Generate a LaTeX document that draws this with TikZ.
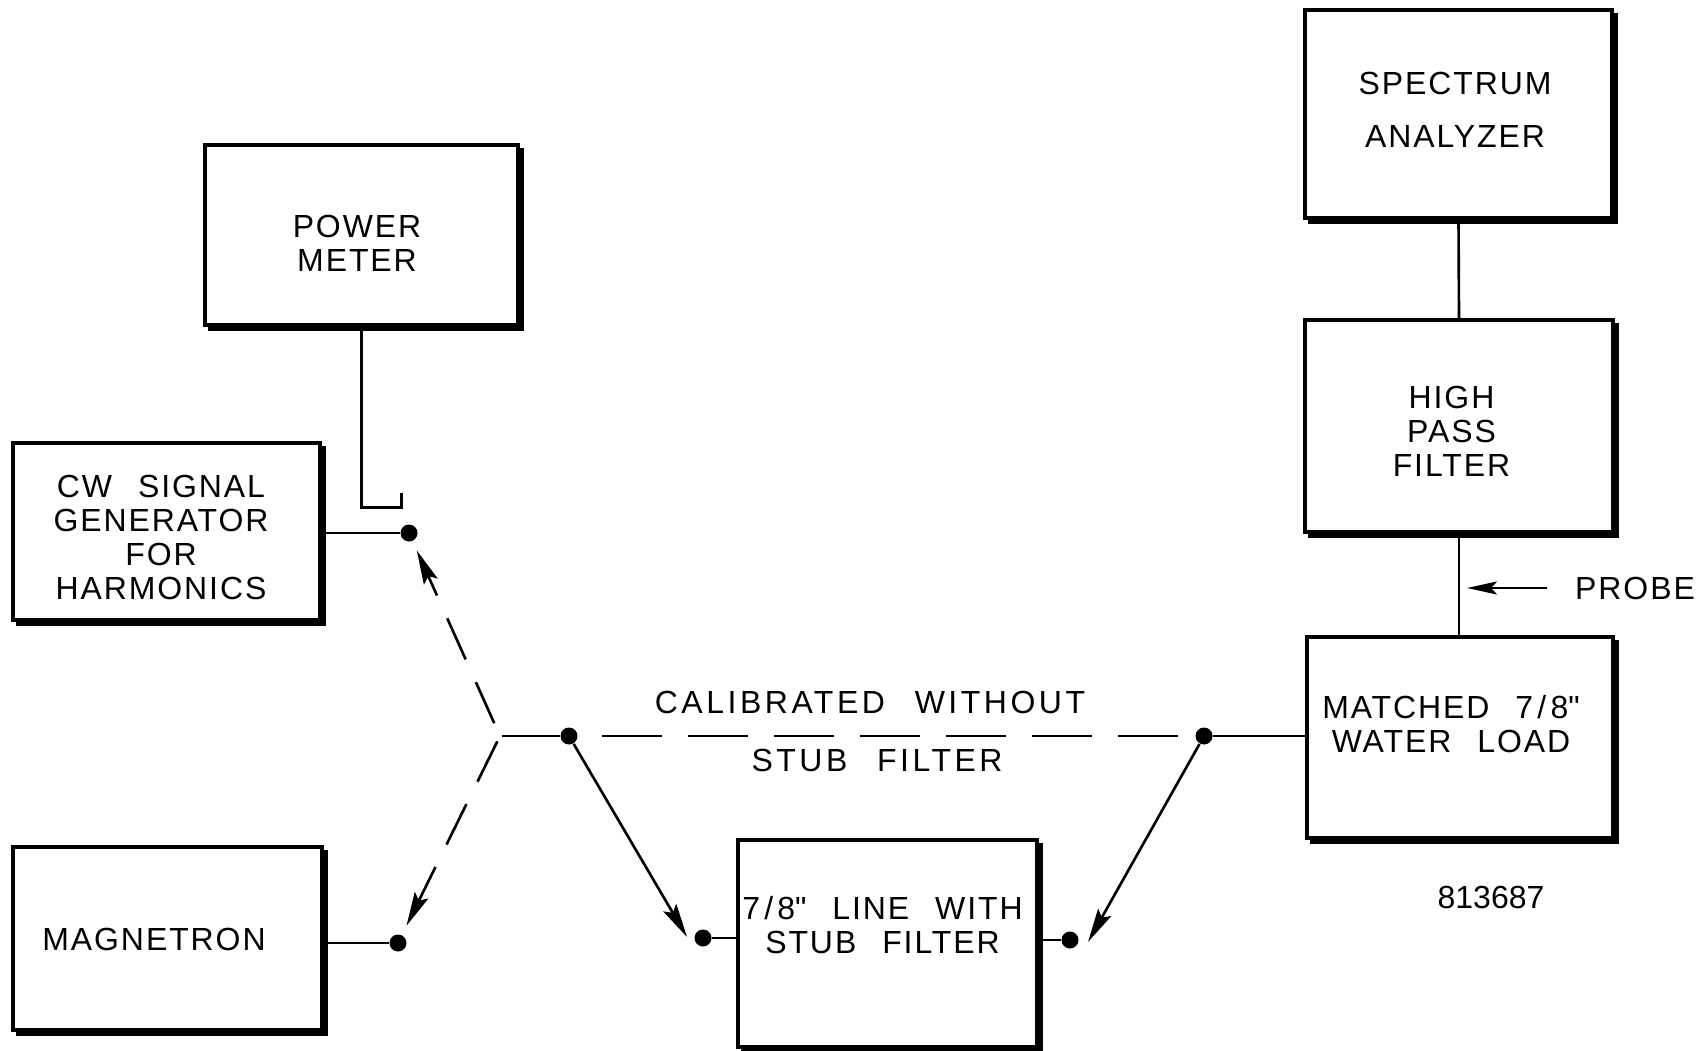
\documentclass[tikz,border=0pt]{standalone}
\usepackage{fontspec}
\setmainfont[LetterSpace=6,WordSpace=2.4]{Liberation Sans}
\newfontfamily\numfont{Liberation Sans}
\newfontfamily\widefont[LetterSpace=11,WordSpace=2.4]{Liberation Sans}
\usetikzlibrary{arrows.meta}

\tikzset{
  unit/.style={draw, line width=0.9pt, inner sep=0pt},
  heavyedge/.style={line width=1.6pt},
  caps/.style={align=center, inner sep=0pt, font=\fontsize{9.1}{9.7}\selectfont},
  dot/.style={circle, fill, inner sep=0pt, minimum size=1.7mm},
  wire/.style={line width=0.75pt},
  tip/.style={wire, -{Stealth[length=3.4mm,width=1.5mm,inset=0.6mm]}},
  longdash/.style={wire, dash pattern=on 4.5mm off 2.5mm},
  dashtip/.style={longdash, -{Stealth[length=3.4mm,width=1.5mm,inset=0.6mm]}}
}
\newcommand{\inch}{\textquotedbl}
\newcommand{\sevenei}{7\kern1.2pt/\kern1.2pt8}

\begin{document}
\begin{tikzpicture}
  \useasboundingbox (0,0) rectangle (17.06,10.5);
  % units on the left
  \node[unit, minimum width=3.13cm, minimum height=1.80cm] (pm) at (3.615,8.15) {};
  \node[caps] (pmt) at (3.57,8.07) {POWER\\METER};
  \node[unit, minimum width=3.07cm, minimum height=1.77cm] (cw) at (1.665,5.185) {};
  \node[caps] (cwt) at (1.61,5.125) {CW SIGNAL\\GENERATOR\\FOR\\HARMONICS};
  \node[unit, minimum width=3.09cm, minimum height=1.83cm] (mag) at (1.675,1.115) {};
  \node[caps] (magt) at (1.54,1.11) {MAGNETRON};
  % line with stub filter
  \node[unit, minimum width=2.99cm, minimum height=2.07cm] (lb) at (8.875,1.065) {};
  \node[caps] (lbt) at (8.825,1.25) {\sevenei\inch{} LINE WITH\\STUB FILTER};
  % units on the right
  \node[unit, minimum width=3.07cm, minimum height=2.08cm] (sa) at (14.585,9.36) {};
  \node[caps] (sat) at (14.55,9.405) {SPECTRUM\\[5.3pt]ANALYZER};
  \node[unit, minimum width=3.08cm, minimum height=2.12cm] (hpf) at (14.59,6.24) {};
  \node[caps] (hpft) at (14.515,6.185) {HIGH\\PASS\\FILTER};
  \node[unit, minimum width=3.06cm, minimum height=2.01cm] (wl) at (14.60,3.125) {};
  \node[caps] (wlt) at (14.51,3.26) {MATCHED \sevenei\inch\\WATER LOAD};
  % heavy lower and right edges
  \foreach \b in {pm,cw,mag,lb,sa,hpf,wl}
    \draw[heavyedge] ([shift={(0.02,-0.05)}]\b.north east) -- ([shift={(0.02,-0.02)}]\b.south east)
      -- ([shift={(0.05,-0.02)}]\b.south west);

  % switch points
  \node[dot] (cwd) at (4.09,5.17) {};
  \node[dot] (magd) at (3.98,1.07) {};
  \coordinate (j) at (5.00,3.14);
  \node[dot] (ld) at (5.69,3.14) {};
  \node[dot] (rd) at (12.04,3.14) {};
  \node[dot] (lbl) at (7.03,1.12) {};
  \node[dot] (lbr) at (10.70,1.10) {};
  \coordinate (lt) at (6.87,1.13);
  \coordinate (rt) at (10.88,1.08);

  % power meter coupler
  \draw[wire] (pm.south) -- ++(0,-1.81) -- ++(0.40,0) -- ++(0,0.15);
  % sources
  \draw[wire] (cwd -| cw.east) -- (cwd);
  \draw[wire] (magd -| mag.east) -- (magd);
  \draw[dashtip, shorten <=1.4mm, shorten >=1mm] (j) -- (cwd);
  \draw[dashtip, shorten <=0.6mm, shorten >=1mm] (j) -- (magd);
  \draw[wire, shorten <=0.2mm] (j) -- (ld);
  % calibration path and stub filter path
  \draw[wire, dash pattern=on 6mm off 2.6mm, shorten <=2.4mm, shorten >=1mm] (ld) -- (rd);
  \node[caps, font=\widefont\fontsize{9.1}{9.7}\selectfont] (calt) at (8.70,3.48) {CALIBRATED WITHOUT};
  \node[caps, font=\widefont\fontsize{9.1}{9.7}\selectfont] (stubt) at (8.77,2.90) {STUB FILTER};
  \draw[tip] (ld) -- (lt);
  \draw[tip] (rd) -- (rt);
  \draw[wire] (lbl) -- (lbl -| lb.west);
  \draw[wire] (lb.east |- lbr) -- (lbr);
  \draw[wire] (rd) -- (rd -| wl.west);
  % detection chain
  \draw[wire] (sa.south) -- (hpf.north);
  \draw[wire] (hpf.south) -- (hpf.south |- wl.north);
  \coordinate (pt) at (14.67,4.62);
  \node[caps] (probe) at (16.35,4.62) {PROBE};
  \draw[tip, -{Stealth[length=3mm,width=1.3mm,inset=0.6mm]}, shorten <=2.7mm] (probe.west) -- (pt);
  \node[caps, font=\numfont\fontsize{9.1}{9.7}\selectfont] (num) at (14.91,1.53) {813687};
\end{tikzpicture}
\end{document}
